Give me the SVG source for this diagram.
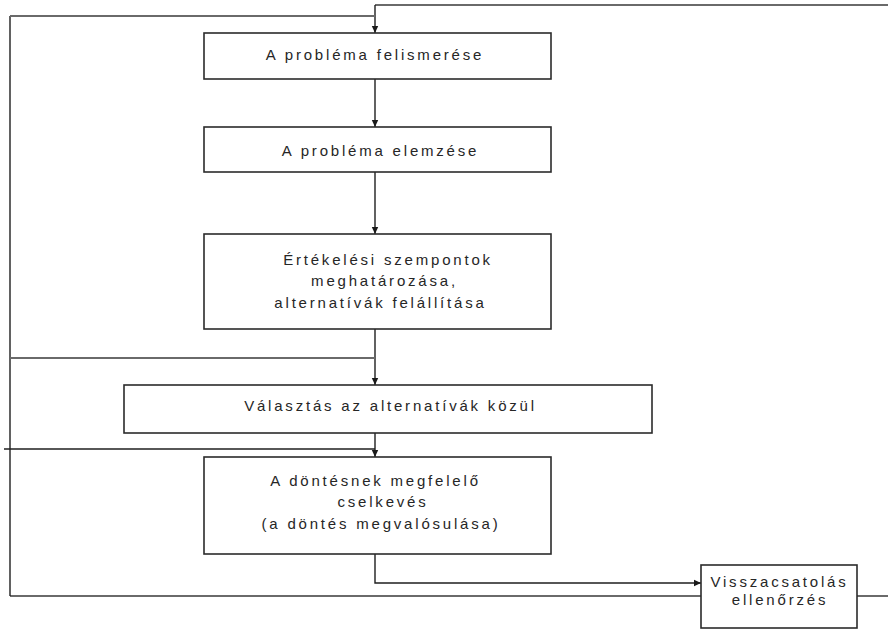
<svg xmlns="http://www.w3.org/2000/svg" width="888" height="630" viewBox="0 0 888 630">
  <defs>
    <marker id="arrow" markerWidth="8" markerHeight="8" refX="7" refY="4" orient="auto" markerUnits="userSpaceOnUse">
      <path d="M0,0.8 L7,4 L0,7.2 Z" fill="#1a1a1a"/>
    </marker>
    <style>
      .box { fill: #ffffff; stroke: #2b2b2b; stroke-width: 1.6; }
      .lbl { font-family: "Liberation Sans", Arial, sans-serif; font-size: 15px; letter-spacing: 2.8px; fill: #262626; text-anchor: middle; }
      .flow { fill: none; stroke: #1f1f1f; stroke-width: 1.4; }
      .loop { fill: none; stroke: #6a6a6a; stroke-width: 2; }
    </style>
  </defs>
  <rect width="888" height="630" fill="#ffffff"/>

  <!-- connectors -->
  <g id="connectors">
    <!-- outer feedback loop from the right, back to the first step -->
    <path class="loop" d="M857,596 H890 V5 H375"/>
    <path class="flow" d="M375,5 V33" marker-end="url(#arrow)"/>
    <!-- left feedback loop -->
    <path class="loop" d="M701,596 H10"/>
    <path class="flow" d="M10,596 V16"/>
    <path class="loop" d="M10,16 H375"/>
    <!-- main chain -->
    <path class="flow" d="M375,79 V127" marker-end="url(#arrow)"/>
    <path class="flow" d="M375,172 V234" marker-end="url(#arrow)"/>
    <path class="flow" d="M375,329 V385" marker-end="url(#arrow)"/>
    <path class="loop" d="M375,358 H10"/>
    <path class="flow" d="M375,433 V457" marker-end="url(#arrow)"/>
    <path class="flow" d="M375,449 H4"/>
    <path class="flow" d="M375,554 V583 H701" marker-end="url(#arrow)"/>
  </g>

  <g id="felismeres">
    <rect class="box" x="204" y="33" width="347" height="46"/>
    <text class="lbl" x="375" y="60">A probléma felismerése</text>
  </g>

  <g id="elemzes">
    <rect class="box" x="204" y="127" width="347" height="45"/>
    <text class="lbl" x="380.5" y="156">A probléma elemzése</text>
  </g>

  <g id="szempontok">
    <rect class="box" x="204" y="234" width="347" height="95"/>
    <text class="lbl" x="388" y="265">Értékelési szempontok</text>
    <text class="lbl" x="384.5" y="286">meghatározása,</text>
    <text class="lbl" x="380.5" y="308">alternatívák felállítása</text>
  </g>

  <g id="valasztas">
    <rect class="box" x="124" y="385" width="528" height="48"/>
    <text class="lbl" x="390.5" y="411">Választás az alternatívák közül</text>
  </g>

  <g id="cselekves">
    <rect class="box" x="204" y="457" width="347" height="97"/>
    <text class="lbl" x="375.5" y="486">A döntésnek megfelelő</text>
    <text class="lbl" x="383" y="507">cselkevés</text>
    <text class="lbl" x="381" y="529">(a döntés megvalósulása)</text>
  </g>

  <g id="visszacsatolas">
    <rect class="box" x="701" y="565" width="156" height="63"/>
    <text class="lbl" x="779.5" y="587">Visszacsatolás</text>
    <text class="lbl" x="780" y="605">ellenőrzés</text>
  </g>
</svg>
